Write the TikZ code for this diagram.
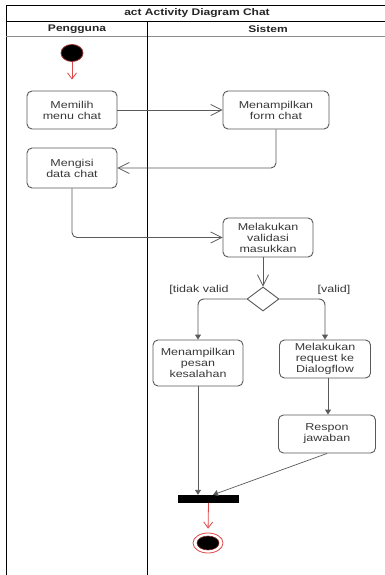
\documentclass[tikz,border=0pt]{standalone}
\usepackage{fontspec}
\setmainfont{Liberation Sans}[FakeStretch=1.25]
\usetikzlibrary{arrows.meta,shapes.geometric,positioning}
\definecolor{ln}{HTML}{5A5A5A}
\definecolor{tx}{HTML}{383838}
\definecolor{rd}{HTML}{E04848}
\tikzset{
  act/.style={draw=ln,line width=0.9pt,rounded corners=5pt,align=center,text=tx,
    font=\fontsize{10}{11}\selectfont,inner sep=0pt},
  flow/.style={draw=ln,line width=0.9pt},
  openarr/.style={flow,-{Straight Barb[length=11pt,width=11pt,line width=0.8pt]}},
  fillarr/.style={flow,-{Triangle[length=5pt,width=6pt]}},
  redarr/.style={draw=rd,line width=0.8pt,-{Straight Barb[length=6pt,width=9pt,line width=0.8pt]}},
  guard/.style={text=tx,font=\fontsize{10}{11}\selectfont,inner sep=0pt},
  hdr/.style={font=\bfseries\fontsize{9.6}{11}\selectfont,text=black!85,inner sep=0pt}
}
\begin{document}
\begin{tikzpicture}[x=1pt,y=-1pt]
\useasboundingbox[fill=white] (0,0) rectangle (385,575);
% frame
\draw[line width=1pt] (6,575) -- (6,6) -- (385,6);
\draw[line width=1pt] (6,21.5) -- (385,21.5);
\draw[line width=1.6pt,draw=black!45] (6,36.5) -- (385,36.5);
\draw[line width=0.9pt] (147,21.5) -- (147,575);
\node[hdr] (title) at (197,13.5) {act Activity Diagram Chat};
\node[hdr] (pg) at (77,29) {Pengguna};
\node[hdr] (ss) at (268,29) {Sistem};
% nodes
\node[ellipse,draw=rd!70!black,fill=black,line width=0.8pt,minimum width=22pt,minimum height=17pt,inner sep=0pt] (start) at (72,53) {};
\node[act,minimum width=90pt,minimum height=38pt] (m1) at (72,110) {Memilih\\menu chat};
\node[act,minimum width=106pt,minimum height=38pt] (s1) at (276,110) {Menampilkan\\form chat};
\node[act,minimum width=90pt,minimum height=40pt] (m2) at (72,168) {Mengisi\\data chat};
\node[act,minimum width=90pt,minimum height=39pt] (s2) at (268,237.5) {Melakukan\\validasi\\masukkan};
\node[diamond,draw=ln,line width=0.9pt,minimum width=32pt,minimum height=24pt,inner sep=0pt,fill=white] (dec) at (263,299) {};
\node[act,minimum width=90pt,minimum height=46pt] (s3) at (198,363) {Menampilkan\\pesan\\kesalahan};
\node[act,minimum width=91pt,minimum height=38pt] (s4) at (325,359) {Melakukan\\request ke\\Dialogflow};
\node[act,minimum width=97pt,minimum height=38pt] (s5) at (327,434) {Respon\\jawaban};
\node[fill=black,minimum width=61pt,minimum height=8pt,inner sep=0pt] (bar) at (208.5,499) {};
\node[ellipse,draw=rd,fill=white,line width=0.8pt,minimum width=30pt,minimum height=20pt,inner sep=0pt] (end) at (208,543) {};
\node[ellipse,draw=rd!60!black,fill=black,line width=0.6pt,minimum width=22pt,minimum height=14pt,inner sep=0pt] (endin) at (208,543) {};
\node[guard] (g1) at (199,290) {[tidak valid};
\node[guard] (g2) at (334,290) {[valid]};
% connectors
\draw[redarr,shorten >=11pt] (start) -- (m1);
\draw[openarr] (m1) -- (s1);
\draw[openarr,rounded corners=5pt] (s1.south) |- (m2.east);
\draw[openarr,rounded corners=5pt] (m2.south) |- (s2.west);
\draw[openarr] (s2.south -| dec.north) -- (dec.north);
\draw[fillarr,rounded corners=6pt] (dec.west) -| (s3.north);
\draw[fillarr,rounded corners=6pt] (dec.east) -| (s4.north);
\coordinate (s4b) at ([xshift=3pt]s4.south);
\draw[fillarr] (s4b) -- (s4b |- s5.north);
\draw[fillarr] (s3.south) -- (s3.south |- bar.north);
\coordinate (barin) at ([xshift=4.5pt]bar.north);
\draw[fillarr,line width=0.7pt] (s5.south) -- (barin);
\draw[redarr,shorten >=4pt] (bar.south) -- (end.north);
\end{tikzpicture}
\end{document}
